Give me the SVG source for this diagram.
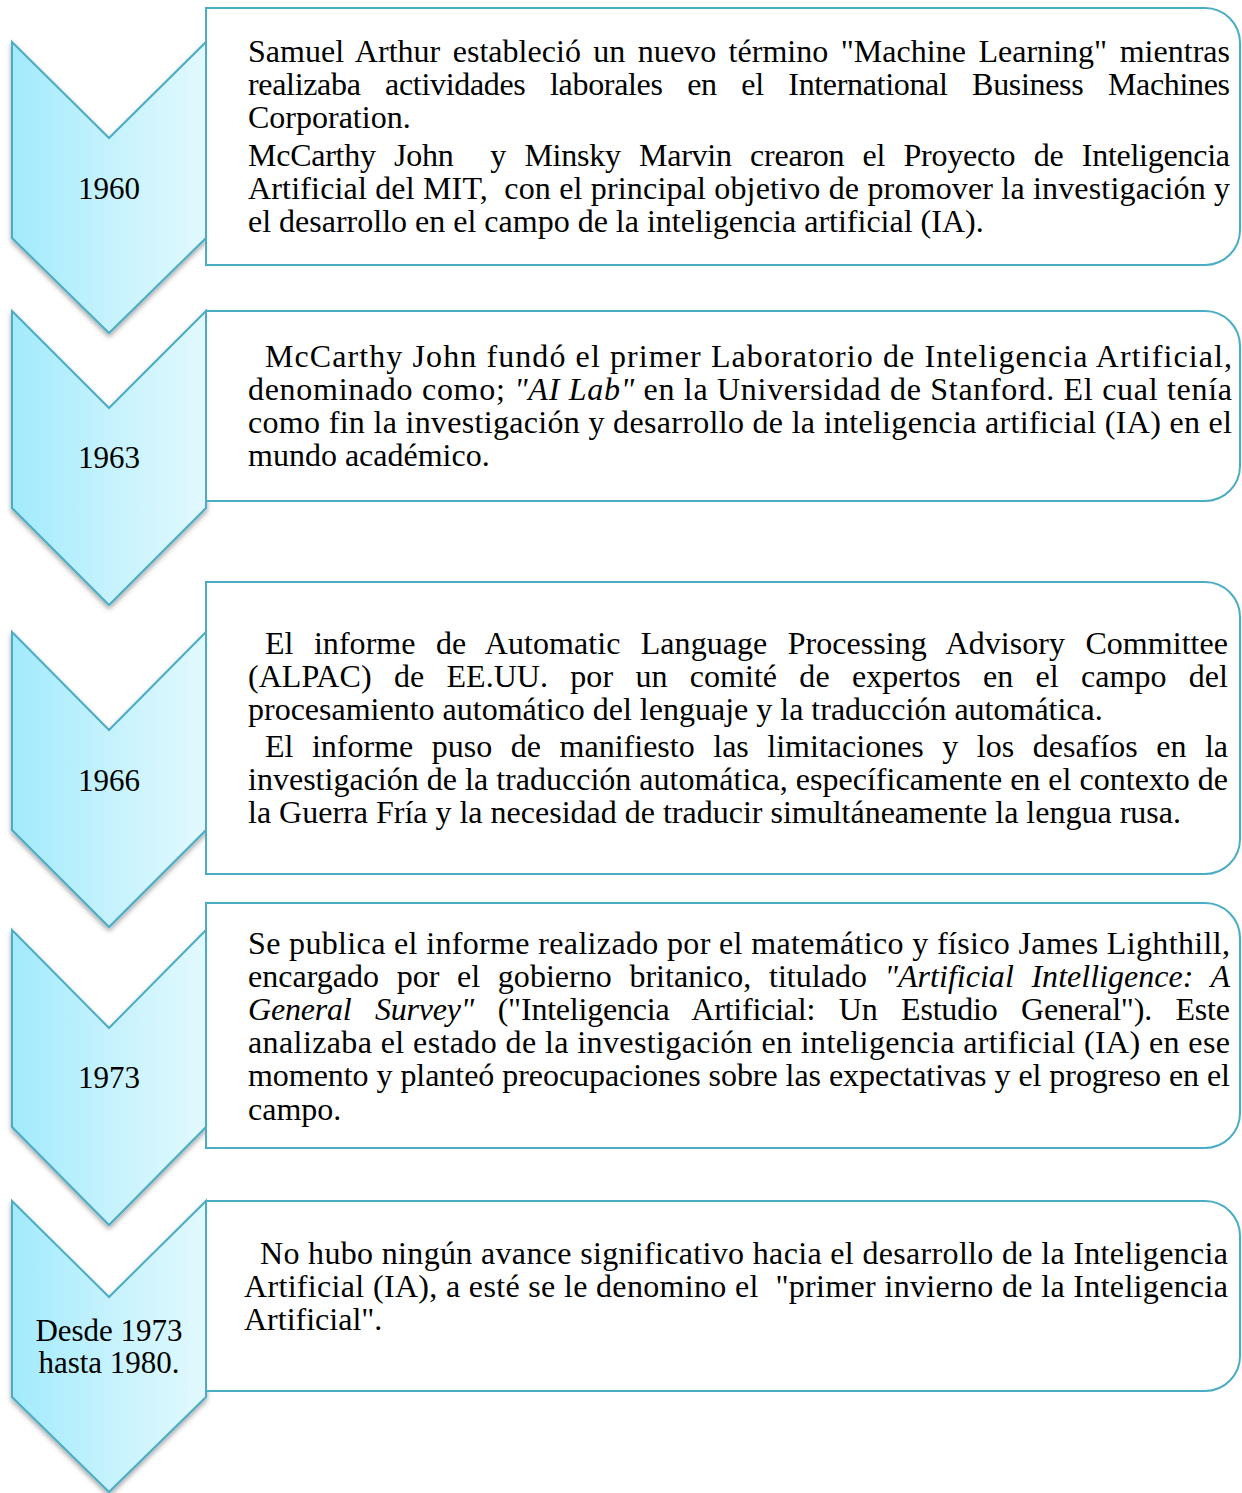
<svg xmlns="http://www.w3.org/2000/svg" width="1242" height="1493" viewBox="0 0 1242 1493">
<defs>
<linearGradient id="chev" x1="0" y1="0" x2="1" y2="0">
<stop offset="0" stop-color="#A2EAFC"/>
<stop offset="0.5" stop-color="#C5F2FD"/>
<stop offset="1" stop-color="#E2F9FE"/>
</linearGradient>
<filter id="sh" x="-10%" y="-10%" width="120%" height="125%">
<feDropShadow dx="0" dy="3" stdDeviation="2.5" flood-color="#000" flood-opacity="0.35"/>
</filter>
</defs>
<style>
.chev{fill:url(#chev);stroke:#4BACC6;stroke-width:2;filter:url(#sh);}
.box{fill:#fff;stroke:#4BACC6;stroke-width:2;}
.t{font-family:"Liberation Serif","Times New Roman",serif;font-size:32px;fill:#000;white-space:pre;}
.lab{font-family:"Liberation Serif","Times New Roman",serif;font-size:31px;fill:#000;text-anchor:middle;}
.i{font-style:italic;}
</style>
<rect width="1242" height="1493" fill="#fff"/>
<g id="connectors"></g>

<g id="n1960">
<path class="chev" d="M12,42 L109,138 L206,42 L206,238 L109,333 L12,238 Z"/>
<path class="box" d="M206,8 H1205 A35,35 0 0 1 1240,43 V230 A35,35 0 0 1 1205,265 H206 Z"/>
<text class="lab" x="109" y="199">1960</text>
<text class="t" x="248" y="62" word-spacing="4.4" textLength="982" lengthAdjust="spacing">Samuel Arthur estableció un nuevo término "Machine Learning" mientras</text>
<text class="t" x="248" y="95" word-spacing="16.9" textLength="982" lengthAdjust="spacing">realizaba actividades laborales en el International Business Machines</text>
<text class="t" x="248" y="128">Corporation.</text>
<text class="t" x="248" y="166" word-spacing="10.6" textLength="982" lengthAdjust="spacing">McCarthy John  y Minsky Marvin crearon el Proyecto de Inteligencia</text>
<text class="t" x="248" y="199" textLength="982" lengthAdjust="spacing">Artificial del MIT,  con el principal objetivo de promover la investigación y</text>
<text class="t" x="248" y="232">el desarrollo en el campo de la inteligencia artificial (IA).</text>
</g>

<g id="n1963">
<path class="chev" d="M12,311 L109,408 L206,311 L206,508 L109,605 L12,508 Z"/>
<path class="box" d="M206,311 H1205 A35,35 0 0 1 1240,346 V466 A35,35 0 0 1 1205,501 H206 Z"/>
<text class="lab" x="109" y="468">1963</text>
<text class="t" x="265" y="367" textLength="967" lengthAdjust="spacing">McCarthy John fundó el primer Laboratorio de Inteligencia Artificial,</text>
<text class="t" x="248" y="400" textLength="984" lengthAdjust="spacing">denominado como; <tspan class="i">"AI Lab"</tspan> en la Universidad de Stanford. El cual tenía</text>
<text class="t" x="248" y="433" textLength="984" lengthAdjust="spacing">como fin la investigación y desarrollo de la inteligencia artificial (IA) en el</text>
<text class="t" x="248" y="466">mundo académico.</text>
</g>

<g id="n1966">
<path class="chev" d="M12,632 L109,730 L206,632 L206,830 L109,927 L12,830 Z"/>
<path class="box" d="M206,582 H1205 A35,35 0 0 1 1240,617 V839 A35,35 0 0 1 1205,874 H206 Z"/>
<text class="lab" x="109" y="791">1966</text>
<text class="t" x="265" y="654" word-spacing="12.3" textLength="963" lengthAdjust="spacing">El informe de Automatic Language Processing Advisory Committee</text>
<text class="t" x="248" y="687" word-spacing="14.2" textLength="980" lengthAdjust="spacing">(ALPAC) de EE.UU. por un comité de expertos en el campo del</text>
<text class="t" x="248" y="720">procesamiento automático del lenguaje y la traducción automática.</text>
<text class="t" x="265" y="757" word-spacing="10.5" textLength="963" lengthAdjust="spacing">El informe puso de manifiesto las limitaciones y los desafíos en la</text>
<text class="t" x="248" y="790" textLength="980" lengthAdjust="spacing">investigación de la traducción automática, específicamente en el contexto de</text>
<text class="t" x="248" y="823">la Guerra Fría y la necesidad de traducir simultáneamente la lengua rusa.</text>
</g>

<g id="n1973">
<path class="chev" d="M12,930 L109,1028 L206,930 L206,1127 L109,1225 L12,1127 Z"/>
<path class="box" d="M206,903 H1205 A35,35 0 0 1 1240,938 V1113 A35,35 0 0 1 1205,1148 H206 Z"/>
<text class="lab" x="109" y="1088">1973</text>
<text class="t" x="248" y="954" textLength="982" lengthAdjust="spacing">Se publica el informe realizado por el matemático y físico James Lighthill,</text>
<text class="t" x="248" y="987" word-spacing="9.6" textLength="982" lengthAdjust="spacing">encargado por el gobierno britanico, titulado <tspan class="i">"Artificial Intelligence: A</tspan></text>
<text class="t" x="248" y="1020" word-spacing="15.8" textLength="982" lengthAdjust="spacing"><tspan class="i">General Survey"</tspan> ("Inteligencia Artificial: Un Estudio General"). Este</text>
<text class="t" x="248" y="1053" textLength="982" lengthAdjust="spacing">analizaba el estado de la investigación en inteligencia artificial (IA) en ese</text>
<text class="t" x="248" y="1086" textLength="982" lengthAdjust="spacing">momento y planteó preocupaciones sobre las expectativas y el progreso en el</text>
<text class="t" x="248" y="1120">campo.</text>
</g>

<g id="n1973-1980">
<path class="chev" d="M12,1201 L109,1297 L206,1201 L206,1397 L109,1492 L12,1397 Z"/>
<path class="box" d="M206,1201 H1205 A35,35 0 0 1 1240,1236 V1356 A35,35 0 0 1 1205,1391 H206 Z"/>
<text class="lab" x="109" y="1341">Desde 1973</text>
<text class="lab" x="109" y="1373">hasta 1980.</text>
<text class="t" x="260" y="1264" textLength="968" lengthAdjust="spacing">No hubo ningún avance significativo hacia el desarrollo de la Inteligencia</text>
<text class="t" x="244" y="1297" textLength="984" lengthAdjust="spacing">Artificial (IA), a esté se le denomino el  "primer invierno de la Inteligencia</text>
<text class="t" x="244" y="1330">Artificial".</text>
</g>
</svg>
